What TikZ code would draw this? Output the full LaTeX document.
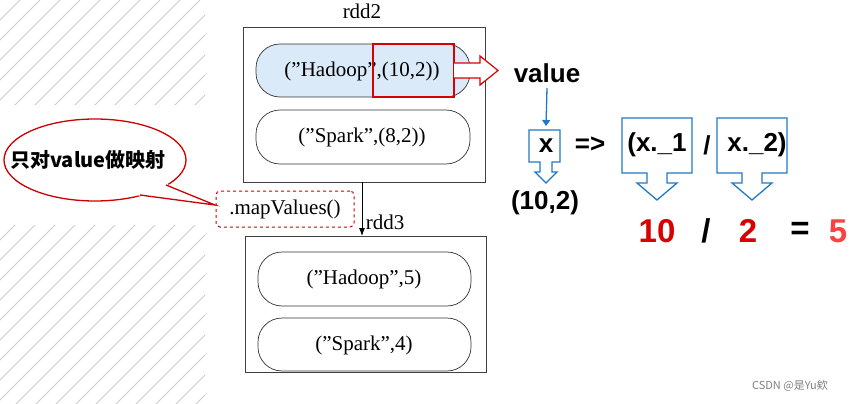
\documentclass[tikz,border=0pt]{standalone}
\usepackage{fontspec}
\usetikzlibrary{arrows.meta}
\setmainfont{Liberation Serif}
\newfontfamily\sansb{Liberation Sans}
\newfontfamily\cjk{Noto Sans CJK SC}
\newcommand\mydq{\char34\relax}
\definecolor{lb}{RGB}{218,234,248}
\definecolor{cb}{RGB}{30,120,200}
\begin{document}
\begin{tikzpicture}[x=1pt,y=-1pt,
  pill/.style={draw=black!80,rounded corners=24pt,line width=0.7pt},
  rtxt/.style={font=\fontsize{21}{21}\selectfont},
  bsf/.style={font=\sansb\bfseries\fontsize{26}{26}\selectfont},
  big/.style={font=\sansb\bfseries\fontsize{33}{33}\selectfont},
  call/.style={draw=cb,line width=1.3pt},
  hat/.style={gray!40,line width=1pt}]
\useasboundingbox (0,0) rectangle (860,404);
% hatching
\begin{scope}
\clip (0,0) rectangle (205,105) (0,225) rectangle (205,404);
\foreach \i in {-420,-400,...,220} \draw[hat] (\i,420) -- (\i+420,0);
\end{scope}
% rdd2
\node[rtxt] (l2) at (362,11) {rdd2};
\draw[black!75,line width=0.8pt] (243,27) rectangle (485,182);
\draw[pill,fill=lb] (256,44) rectangle (470,97);
\node[rtxt] (h2) at (362,71) {(\mydq Hadoop\mydq,(10,2))};
\draw[red!85!black,line width=1.3pt] (373,44) rectangle (454,97);
\draw[red!85!black,line width=1.2pt,fill=white] (454,63) -- (480,63) -- (480,56) -- (498,70.5) -- (480,85) -- (480,78) -- (454,78);
\draw[pill] (256,110) rectangle (470,164);
\node[rtxt] (s2) at (362,137) {(\mydq Spark\mydq,(8,2))};
% arrow down
\coordinate (a1) at (362,182);
\coordinate (a2) at (362,236);
\draw[-{Latex[length=8pt]},line width=0.8pt] (a1) -- (a2);
\node[draw=red!80!black,dashed,rounded corners=4pt,line width=1pt,rtxt,minimum width=138pt,minimum height=36pt,fill=white] (mv) at (285,209) {.mapValues()};
% rdd3
\node[rtxt] (l3) at (385,222) {rdd3};
\draw[black!75,line width=0.8pt] (245,236) rectangle (486,372);
\draw[pill] (258,252) rectangle (471,306);
\node[rtxt] (h3) at (364,279) {(\mydq Hadoop\mydq,5)};
\draw[pill] (258,318) rectangle (471,371);
\node[rtxt] (s3) at (364,345) {(\mydq Spark\mydq,4)};
% bubble
\draw[red!80!black,line width=1.3pt,fill=white] (95,160) ellipse [x radius=91,y radius=41];
\fill[white] (167,184) -- (215,205) -- (138,196) -- cycle;
\draw[red!80!black,line width=1.3pt] (166,185) -- (215,205) -- (140,195);
\node[font=\cjk\bfseries\fontsize{20}{20}\selectfont] (bt) at (88,160) {只对value做映射};
% right side
\node[bsf] (val) at (547,73) {value};
\node[bsf] (xx) at (546,146) {x};
\draw[call,-{Triangle[length=6pt,width=8pt]}] (val.south) ++(0,2) -- (546,126);
\draw[call] (529,130) -- (560,130) -- (560,162) -- (552,162) -- (552,172) -- (557,172) -- (546,183) -- (535,172) -- (540,172) -- (540,162) -- (529,162) -- cycle;
\node[bsf] (arr) at (590,145) {=>};
\node[bsf] (x1) at (657,145) {(x.\_1};
\node[bsf] (sl) at (707,145) {/};
\node[bsf] (x2) at (757,145) {x.\_2)};
\foreach \c in {657,752}{
\draw[call] (\c-35,118) -- (\c+35,118) -- (\c+35,173) -- (\c+10,173) -- (\c+10,183) -- (\c+20,183) -- (\c,200) -- (\c-20,183) -- (\c-10,183) -- (\c-10,173) -- (\c-35,173) -- cycle;}
\node[bsf] (t) at (545,203) {(10,2)};
\node[big,red!85!black] (n10) at (657,231) {10};
\node[big] (n11) at (706,231) {/};
\node[big,red!85!black] (n2) at (748,231) {2};
\node[big] (eq) at (800,231) {=};
\node[big,red!75] (n5) at (838,231) {5};
\node[gray,font=\cjk\fontsize{11}{11}\selectfont] (wm) at (790,386) {CSDN @是Yu欸};
\end{tikzpicture}
\end{document}
